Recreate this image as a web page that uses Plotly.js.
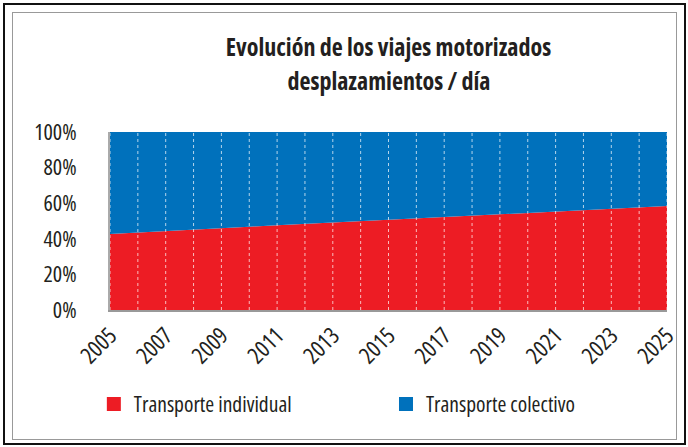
<!DOCTYPE html>
<html>
<head>
<meta charset="utf-8">
<script src="https://cdn.plot.ly/plotly-3.0.1.min.js"></script>
<style>
  html, body { margin: 0; padding: 0; background: #fff; }
  #wrap { position: relative; width: 688px; height: 447px; overflow: hidden; }
  #chart { position: absolute; left: 0; top: 0; width: 688px; height: 447px; }
  #chart text { font-stretch: 75% !important; }
  .frame-outer { position: absolute; left: 3px; top: 3px; width: 679px; height: 438px; border: 2px solid #111; pointer-events: none; }
  .frame-inner { position: absolute; left: 12px; top: 12px; width: 663px; height: 426px; border: 1px solid #999; pointer-events: none; }
</style>
</head>
<body>
<div id="wrap">
  <div id="chart"></div>
  <div class="frame-outer"></div>
  <div class="frame-inner"></div>
</div>
<script>
// ---- data ----
const years = [2005, 2006, 2007, 2008, 2009, 2010, 2011, 2012, 2013, 2014, 2015,
               2016, 2017, 2018, 2019, 2020, 2021, 2022, 2023, 2024, 2025];
const individual = [42.7, 43.6, 44.4, 45.2, 46.0, 46.8, 47.6, 48.4, 49.2, 50.0, 50.8,
                    51.6, 52.4, 53.2, 54.0, 54.7, 55.4, 56.1, 56.8, 57.6, 58.4];
const colectivo = [57.3, 56.4, 55.6, 54.8, 54.0, 53.2, 52.4, 51.6, 50.8, 50.0, 49.2,
                   48.4, 47.6, 46.8, 46.0, 45.3, 44.6, 43.9, 43.2, 42.4, 41.6];
const seriesNames = ["Transporte individual", "Transporte colectivo"];
const yTickVals = [0, 20, 40, 60, 80, 100];
const yTickText = ["0%", "20%", "40%", "60%", "80%", "100%"];
const xTickVals = [2005, 2007, 2009, 2011, 2013, 2015, 2017, 2019, 2021, 2023, 2025];
const titleLines = ["Evolución de los viajes motorizados", "desplazamientos / día"];

const RED = "#ed1c24";
const BLUE = "#0071bc";
const FONT = "'Open Sans', 'Roboto Condensed', sans-serif";
const TEXT = "#231f20";

const traces = [
  { x: years, y: individual, type: "scatter", mode: "lines", stackgroup: "one",
    line: { width: 0, color: RED }, fillcolor: RED, name: seriesNames[0], showlegend: false, hoverinfo: "x+y" },
  { x: years, y: colectivo, type: "scatter", mode: "lines", stackgroup: "one",
    line: { width: 0, color: BLUE }, fillcolor: BLUE, name: seriesNames[1], showlegend: false, hoverinfo: "x+y" },
  // legend keys
  { x: [null], y: [null], type: "scatter", mode: "markers", name: seriesNames[0], legend: "legend",
    marker: { symbol: "square", size: 14, color: RED } },
  { x: [null], y: [null], type: "scatter", mode: "markers", name: seriesNames[1], legend: "legend2",
    marker: { symbol: "square", size: 14, color: BLUE } }
];

// dotted white vertical grid lines at each year, drawn above the areas
const gridShapes = years.map(yr => ({
  type: "line", xref: "x", yref: "paper", x0: yr, x1: yr, y0: 0, y1: 1,
  line: { color: "rgba(255,255,255,0.7)", width: 1, dash: "dot" }, layer: "above"
}));

const legendFont = { family: FONT, size: 21.5, color: TEXT };
const titleFont = { family: FONT, size: 24, color: TEXT, weight: "bold" };

const layout = {
  width: 688, height: 447,
  margin: { l: 110, r: 21, t: 132, b: 137 },
  paper_bgcolor: "#ffffff", plot_bgcolor: "#ffffff",
  font: { family: FONT, color: TEXT },
  title: {
    text: titleLines[0], font: titleFont,
    x: 0.5, xref: "paper", xanchor: "center",
    y: 1 - 48 / 447, yref: "container", yanchor: "middle"
  },
  annotations: [{
    text: titleLines[1], xref: "paper", yref: "paper", x: 0.5, y: 1.292,
    xanchor: "center", yanchor: "middle", showarrow: false, font: titleFont
  }],
  xaxis: {
    range: [years[0], years[years.length - 1]],
    tickvals: xTickVals, tickangle: -45,
    tickfont: { family: FONT, size: 23, color: TEXT },
    showgrid: false, zeroline: false,
    showline: true, linecolor: "#999", linewidth: 2,
    ticks: "", ticklabelstandoff: 1
  },
  yaxis: {
    range: [0, 100], tickvals: yTickVals, ticktext: yTickText,
    tickfont: { family: FONT, size: 22, color: TEXT },
    showgrid: false, zeroline: false,
    showline: true, linecolor: "#aaa", linewidth: 2,
    ticks: "", ticklabelstandoff: 27
  },
  showlegend: true,
  legend: {
    orientation: "h", x: -0.029, xanchor: "left", y: -0.528, yanchor: "middle",
    font: legendFont, bgcolor: "rgba(0,0,0,0)"
  },
  legend2: {
    orientation: "h", x: 0.4955, xanchor: "left", y: -0.528, yanchor: "middle",
    font: legendFont, bgcolor: "rgba(0,0,0,0)"
  },
  shapes: gridShapes
};

Plotly.newPlot("chart", traces, layout, { displayModeBar: false, staticPlot: true });
</script>
</body>
</html>
